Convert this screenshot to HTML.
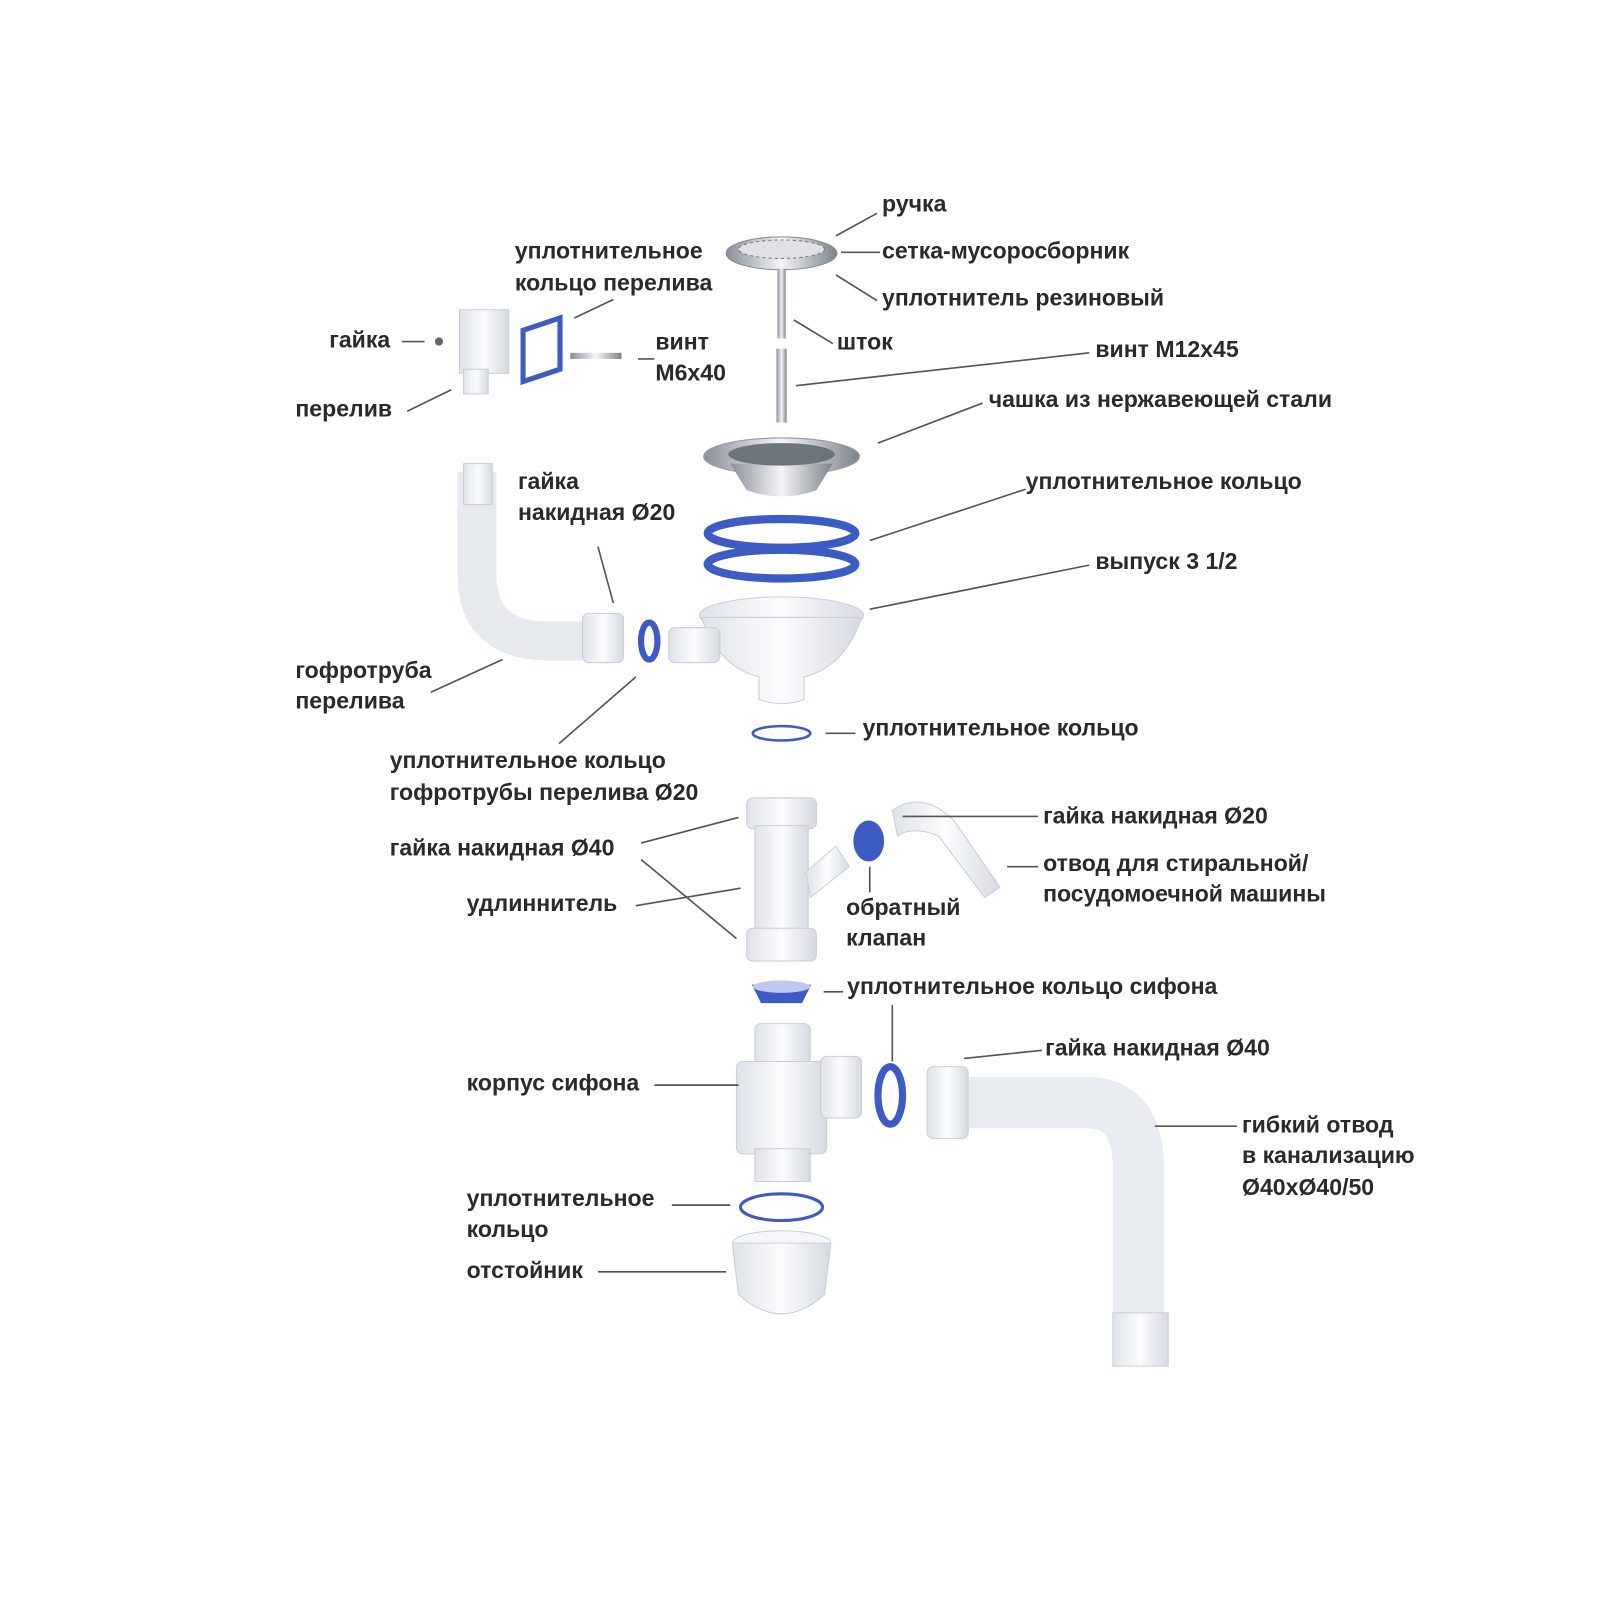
<!DOCTYPE html>
<html><head><meta charset="utf-8"><style>
html,body{margin:0;padding:0;background:#fff}
svg{display:block}
text{font-family:"Liberation Sans",sans-serif;font-size:22.5px;font-weight:bold;fill:#2a2a2a}
.l{stroke:#555;stroke-width:1.6;fill:none}
.b{fill:none;stroke:#3d5bc4}
</style></head><body>
<svg width="1600" height="1600" viewBox="0 0 1560 1560" xmlns="http://www.w3.org/2000/svg">
<defs>
<linearGradient id="st" x1="0" x2="1"><stop offset="0" stop-color="#8a9099"/><stop offset=".5" stop-color="#f4f5f7"/><stop offset="1" stop-color="#7d838c"/></linearGradient>
<linearGradient id="pw" x1="0" x2="1"><stop offset="0" stop-color="#dfe3e9"/><stop offset=".5" stop-color="#fbfcfd"/><stop offset="1" stop-color="#d5dae1"/></linearGradient>
</defs>
<ellipse cx="762" cy="247" rx="54" ry="16" fill="url(#st)" stroke="#888"/>
<ellipse cx="762" cy="243" rx="42" ry="9" fill="#dfe1e4" stroke="#777" stroke-dasharray="3 3"/>
<rect x="758" y="262" width="8" height="68" fill="url(#st)"/>
<rect x="757" y="340" width="10" height="72" fill="url(#st)"/>
<ellipse cx="762" cy="445" rx="76" ry="18" fill="url(#st)" stroke="#999"/>
<path d="M712 452 L728 478 Q762 490 796 478 L812 452 Z" fill="url(#st)"/>
<ellipse cx="762" cy="443" rx="52" ry="11" fill="#6e747c"/>
<ellipse cx="762" cy="520" rx="72" ry="14" class="b" stroke-width="8"/>
<ellipse cx="762" cy="550" rx="72" ry="14" class="b" stroke-width="8"/>
<ellipse cx="762" cy="600" rx="80" ry="18" fill="url(#pw)" stroke="#c9ced6"/>
<path d="M684 602 Q700 650 740 660 L740 682 Q762 690 784 682 L784 660 Q824 650 840 602 Z" fill="url(#pw)" stroke="#c9ced6"/>
<rect x="652" y="612" width="50" height="34" rx="6" fill="url(#pw)" stroke="#c9ced6"/>
<ellipse cx="633" cy="625" rx="8" ry="18" class="b" stroke-width="6"/>
<path d="M465 460 L465 560 Q465 625 535 625 L590 625" fill="none" stroke="#e6e9ee" stroke-width="38"/>
<rect x="452" y="452" width="28" height="40" fill="url(#pw)" stroke="#c9ced6"/>
<rect x="568" y="598" width="40" height="48" rx="6" fill="url(#pw)" stroke="#c9ced6"/>
<rect x="448" y="302" width="48" height="62" fill="url(#pw)" stroke="#c9ced6"/>
<rect x="452" y="360" width="24" height="24" fill="url(#pw)" stroke="#c9ced6"/>
<circle cx="428" cy="333" r="4" fill="#666"/>
<path d="M510 322 L546 310 L546 360 L510 372 Z" class="b" stroke-width="5"/>
<rect x="556" y="344" width="50" height="6" fill="url(#st)"/>
<ellipse cx="762" cy="715" rx="28" ry="7" class="b" stroke-width="2.5"/>
<rect x="728" y="778" width="68" height="30" rx="6" fill="url(#pw)" stroke="#c9ced6"/>
<rect x="736" y="805" width="52" height="110" fill="url(#pw)" stroke="#c9ced6"/>
<path d="M786 850 L815 825 L828 845 L790 875 Z" fill="url(#pw)" stroke="#c9ced6"/>
<rect x="728" y="905" width="68" height="32" rx="6" fill="url(#pw)" stroke="#c9ced6"/>
<ellipse cx="847" cy="820" rx="15" ry="20" fill="#3d5bc4"/>
<path d="M870 790 Q900 770 930 800 L975 865 L960 875 L915 815 Q890 805 875 815 Z" fill="url(#pw)" stroke="#c9ced6"/>
<path d="M733 960 L791 960 L782 978 L742 978 Z" fill="#3d5bc4"/>
<ellipse cx="762" cy="962" rx="28" ry="6" fill="#bfc9ee"/>
<rect x="736" y="998" width="54" height="40" rx="6" fill="url(#pw)" stroke="#c9ced6"/>
<rect x="718" y="1035" width="88" height="90" rx="6" fill="url(#pw)" stroke="#c9ced6"/>
<rect x="800" y="1030" width="40" height="60" rx="6" fill="url(#pw)" stroke="#c9ced6"/>
<rect x="736" y="1120" width="54" height="32" fill="url(#pw)" stroke="#c9ced6"/>
<ellipse cx="868" cy="1068" rx="12" ry="28" class="b" stroke-width="7"/>
<path d="M930 1075 L1060 1075 Q1110 1075 1110 1140 L1110 1320" fill="none" stroke="#e8ebef" stroke-width="50"/>
<rect x="904" y="1040" width="40" height="70" rx="6" fill="url(#pw)" stroke="#c9ced6"/>
<rect x="1085" y="1280" width="54" height="52" fill="url(#pw)" stroke="#c9ced6"/>
<ellipse cx="762" cy="1177" rx="40" ry="13" class="b" stroke-width="3"/>
<ellipse cx="762" cy="1212" rx="48" ry="12" fill="#f5f6f8" stroke="#c9ced6"/>
<path d="M714 1212 L720 1262 Q762 1300 804 1262 L810 1212 Z" fill="url(#pw)" stroke="#c9ced6"/>
<g class="l">
<path d="M815 230 L855 208"/><path d="M820 246 L858 246"/><path d="M815 268 L855 293"/>
<path d="M774 312 L812 335"/><path d="M776 376 L1062 344"/><path d="M856 432 L958 393"/>
<path d="M848 527 L1000 477"/><path d="M848 594 L1062 551"/>
<path d="M560 310 L598 292"/><path d="M392 333 L414 333"/><path d="M397 401 L440 380"/><path d="M622 350 L638 350"/>
<path d="M583 533 L598 588"/><path d="M420 675 L490 643"/><path d="M545 725 L620 660"/>
<path d="M805 715 L834 715"/>
<path d="M625 822 L720 797"/><path d="M625 838 L718 915"/><path d="M620 883 L722 866"/>
<path d="M880 796 L1012 796"/><path d="M982 845 L1012 845"/><path d="M848 845 L848 870"/>
<path d="M803 967 L822 967"/><path d="M870 980 L870 1035"/><path d="M940 1032 L1016 1024"/>
<path d="M638 1058 L720 1058"/><path d="M1126 1098 L1206 1098"/>
<path d="M655 1175 L712 1175"/><path d="M583 1240 L708 1240"/>
</g>
<text x="860" y="206">ручка</text>
<text x="860" y="252">сетка-мусоросборник</text>
<text x="860" y="298">уплотнитель резиновый</text>
<text x="816" y="341">шток</text>
<text x="1068" y="348">винт М12х45</text>
<text x="964" y="397">чашка из нержавеющей стали</text>
<text x="1000" y="477">уплотнительное кольцо</text>
<text x="1068" y="555">выпуск 3 1/2</text>
<text x="502" y="252">уплотнительное</text>
<text x="502" y="283">кольцо перелива</text>
<text x="321" y="339">гайка</text>
<text x="639" y="341">винт</text>
<text x="639" y="371">М6х40</text>
<text x="288" y="406">перелив</text>
<text x="505" y="477">гайка</text>
<text x="505" y="507">накидная Ø20</text>
<text x="288" y="661">гофротруба</text>
<text x="288" y="691">перелива</text>
<text x="841" y="717">уплотнительное кольцо</text>
<text x="380" y="749">уплотнительное кольцо</text>
<text x="380" y="780">гофротрубы перелива Ø20</text>
<text x="1017" y="803">гайка накидная Ø20</text>
<text x="380" y="834">гайка накидная Ø40</text>
<text x="1017" y="849">отвод для стиральной/</text>
<text x="1017" y="879">посудомоечной машины</text>
<text x="455" y="888">удлиннитель</text>
<text x="825" y="892">обратный</text>
<text x="825" y="922">клапан</text>
<text x="826" y="969">уплотнительное кольцо сифона</text>
<text x="1019" y="1029">гайка накидная Ø40</text>
<text x="455" y="1063">корпус сифона</text>
<text x="1211" y="1104">гибкий отвод</text>
<text x="1211" y="1134">в канализацию</text>
<text x="1211" y="1165">Ø40хØ40/50</text>
<text x="455" y="1176">уплотнительное</text>
<text x="455" y="1206">кольцо</text>
<text x="455" y="1246">отстойник</text>
</svg>
</body></html>
